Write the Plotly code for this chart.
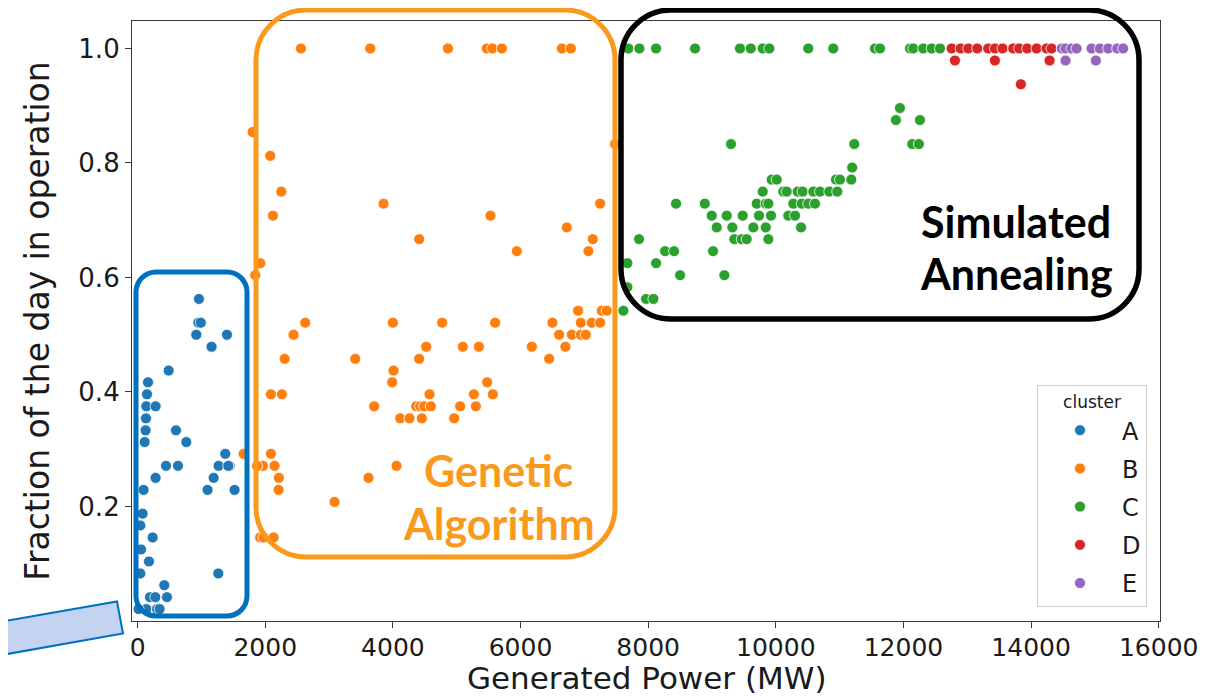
import plotly.graph_objects as go

# ---------------- data ----------------
a_x = [961, 951, 990, 919, 1400, 1159, 486, 163, 147, 136, 282, 131, 125, 601, 110, 763,
       445, 633, 1373, 1269, 1441, 1420, 282, 1191, 94, 1096, 1519, 78, 42, 235, 53, 178,
       42, 1264, 418, 194, 277, 460, 136, 304, 345, 15]
a_y = [0.5625, 0.521, 0.521, 0.5, 0.5, 0.479, 0.4375, 0.417, 0.396, 0.375, 0.375, 0.354, 0.333, 0.333, 0.3125, 0.3125,
       0.271, 0.271, 0.292, 0.271, 0.271, 0.271, 0.25, 0.25, 0.229, 0.229, 0.229, 0.1875, 0.167, 0.146, 0.125, 0.104,
       0.083, 0.083, 0.0625, 0.0417, 0.0417, 0.0417, 0.0208, 0.0208, 0.0208, 0.0208]

b_x = [2559, 3645, 4862, 5472, 5560, 5707, 6647, 6788,
       1801, 2078, 2251, 2120, 3853, 4412, 5529, 5942, 6725, 7247, 7132, 7064, 7482, 1922, 1843,
       6902, 7273, 7351,
       2627, 4000, 4772, 5602, 6500, 6944, 7116, 7247,
       2443, 6605, 6803, 6944, 7022,
       4522, 5096, 5347, 6177, 6703,
       2303, 3410, 4412, 6448,
       4010,
       3989, 5477,
       2089, 2261, 4574, 5269, 5566,
       3707, 4365, 4427, 4490, 4595, 5054, 5300,
       4114, 4260, 4454, 4960,
       2089, 1660,
       1964, 2146, 1870, 4057,
       2214, 3618,
       2209,
       3086,
       1920, 1974, 2130]
b_y = [1.0, 1.0, 1.0, 1.0, 1.0, 1.0, 1.0, 1.0,
       0.854, 0.8125, 0.75, 0.708, 0.729, 0.667, 0.708, 0.646, 0.6875, 0.729, 0.667, 0.646, 0.833, 0.625, 0.604,
       0.542, 0.542, 0.542,
       0.521, 0.521, 0.521, 0.521, 0.521, 0.521, 0.521, 0.521,
       0.5, 0.5, 0.5, 0.5, 0.5,
       0.479, 0.479, 0.479, 0.479, 0.479,
       0.458, 0.458, 0.458, 0.458,
       0.4375,
       0.417, 0.417,
       0.396, 0.396, 0.396, 0.396, 0.396,
       0.375, 0.375, 0.375, 0.375, 0.375, 0.375, 0.375,
       0.354, 0.354, 0.354, 0.354,
       0.292, 0.292,
       0.271, 0.271, 0.271, 0.271,
       0.25, 0.25,
       0.229,
       0.208,
       0.146, 0.146, 0.146]

c_x = [7690, 7862, 8124, 8734, 9439, 9607, 9795, 9898, 10509, 10900, 11554, 11632, 12102, 12154, 12310, 12442, 12572,
       11945,
       11882, 12258,
       12138, 12243, 9298, 11230,
       11197,
       10943, 11006, 11183, 9936, 10014,
       9795, 10118, 10171, 10343, 10421, 10588, 10692, 10838, 10963,
       8437, 8887, 9701, 9842, 9883, 10274, 10406, 10509, 10614,
       8996, 9231, 9481, 9737, 9925, 10196, 10301,
       9074, 9319, 9648, 9842, 10395,
       9350, 9466, 9544, 9883, 7857,
       8265, 8406, 9017,
       7675, 8124,
       8500, 9194,
       7675,
       7967, 8082,
       7612]
c_y = [1.0] * 17 + [
       0.896,
       0.875, 0.875,
       0.833, 0.833, 0.833, 0.833,
       0.792,
       0.771, 0.771, 0.771, 0.771, 0.771,
       0.75, 0.75, 0.75, 0.75, 0.75, 0.75, 0.75, 0.75, 0.75,
       0.729, 0.729, 0.729, 0.729, 0.729, 0.729, 0.729, 0.729, 0.729,
       0.708, 0.708, 0.708, 0.708, 0.708, 0.708, 0.708,
       0.6875, 0.6875, 0.6875, 0.6875, 0.6875,
       0.667, 0.667, 0.667, 0.667, 0.667,
       0.646, 0.646, 0.646,
       0.625, 0.625,
       0.604, 0.604,
       0.583,
       0.5625, 0.5625,
       0.542]

d_x = [12755, 12896, 13015, 13156, 13328, 13433, 13553, 13720, 13814, 13939, 14086, 14243, 14321,
       12807, 13433, 14290,
       13840]
d_y = [1.0, 1.0, 1.0, 1.0, 1.0, 1.0, 1.0, 1.0, 1.0, 1.0, 1.0, 1.0, 1.0,
       0.979, 0.979, 0.979,
       0.9375]

e_x = [14480, 14540, 14634, 14713, 14948, 15078, 15208, 15349, 15443,
       14540, 15015]
e_y = [1.0, 1.0, 1.0, 1.0, 1.0, 1.0, 1.0, 1.0, 1.0,
       0.979, 0.979]

clusters = ["A", "B", "C", "D", "E"]
series_x = [a_x, b_x, c_x, d_x, e_x]
series_y = [a_y, b_y, c_y, d_y, e_y]
colors = ["#1f77b4", "#ff7f0e", "#2ca02c", "#d62728", "#9467bd"]

x_ticks = [0, 2000, 4000, 6000, 8000, 10000, 12000, 14000, 16000]
y_ticks = [0.2, 0.4, 0.6, 0.8, 1.0]
x_title = "Generated Power (MW)"
y_title = "Fraction of the day in operation"

# ---------------- layout geometry ----------------
# the page body has an 8px margin, so the figure sits at (8, 8) in the window
OFF = 8
W, H = 1203, 688
PL, PR, PT, PB = 132, 1160, 21, 621          # plot-area box in window pixels
ML, MT = PL - OFF, PT - OFF
MR, MB = W - (PR - OFF), H - (PB - OFF)
PW, PH = PR - PL, PB - PT


def px(x):
    return (x - PL) / PW


def py(y):
    return (PB - y) / PH


def rrect(x0, y0, x1, y1, r):
    """rounded rectangle path in paper coords from a window-pixel box"""
    k = 0.5523
    X0, X1 = px(x0), px(x1)
    YT, YB = py(y0), py(y1)
    rx, ry = r / PW, r / PH
    p = [f"M {X0 + rx},{YT}",
         f"L {X1 - rx},{YT}",
         f"C {X1 - rx + k * rx},{YT} {X1},{YT - ry + k * ry} {X1},{YT - ry}",
         f"L {X1},{YB + ry}",
         f"C {X1},{YB + ry - k * ry} {X1 - rx + k * rx},{YB} {X1 - rx},{YB}",
         f"L {X0 + rx},{YB}",
         f"C {X0 + rx - k * rx},{YB} {X0},{YB + ry - k * ry} {X0},{YB + ry}",
         f"L {X0},{YT - ry}",
         f"C {X0},{YT - ry + k * ry} {X0 + rx - k * rx},{YT} {X0 + rx},{YT}",
         "Z"]
    return " ".join(p)


def poly(points):
    return "M " + " L ".join(f"{px(a)},{py(b)}" for a, b in points) + " Z"


fig = go.Figure()
for name, xs, ys, col in zip(clusters, series_x, series_y, colors):
    fig.add_trace(go.Scatter(
        x=xs, y=ys, mode="markers", name=name, legendgroup=name,
        marker=dict(color=col, size=11, line=dict(color="white", width=0.8)),
    ))

ORANGE = "#F99A1C"
shapes = [
    dict(type="path", xref="paper", yref="paper", path=rrect(136, 272, 247, 616, 20),
         line=dict(color="#0070C0", width=5), layer="above"),
    dict(type="path", xref="paper", yref="paper", path=rrect(256, 10, 615, 557, 50),
         line=dict(color=ORANGE, width=5), layer="above"),
    dict(type="path", xref="paper", yref="paper", path=rrect(621, 10, 1139, 319, 50),
         line=dict(color="#000000", width=5.5), layer="above"),
    dict(type="path", xref="paper", yref="paper",
         path=poly([(-4, 622.5), (117, 601.5), (123, 633.5), (-4, 656)]),
         fillcolor="#c3d3f0", line=dict(color="#0070C0", width=2), layer="above"),
]

ann_font = dict(family="Lato", size=43)
annotations = [
    dict(text="<b>Genetic</b>", x=px(499), y=py(470)),
    dict(text="<b>Algorithm</b>", x=px(499), y=py(523)),
    dict(text="<b>Simulated</b>", x=px(1016), y=py(222)),
    dict(text="<b>Annealing</b>", x=px(1016), y=py(273)),
]
for i, a in enumerate(annotations):
    a.update(xref="paper", yref="paper", showarrow=False, xanchor="center", yanchor="middle",
             font=dict(ann_font, color=ORANGE if i < 2 else "#000000"))

# x-axis title placed as a text at the bottom edge (as in the reference)
annotations.append(dict(text=x_title, x=px(646), y=py(678), xref="paper", yref="paper",
                        showarrow=False, xanchor="center", yanchor="middle",
                        font=dict(family="DejaVu Sans", size=31, color="#1a1a1a")))

axis_common = dict(
    showline=True, linecolor="#3a3a3a", linewidth=1.2, mirror=True,
    ticks="outside", ticklen=6, tickwidth=1.2, tickcolor="#3a3a3a",
    showgrid=False, zeroline=False, automargin=False,
)

fig.update_layout(
    width=W, height=H,
    margin=dict(l=ML, r=MR, t=MT, b=MB, pad=0, autoexpand=False),
    paper_bgcolor="white", plot_bgcolor="white",
    font=dict(family="DejaVu Sans", color="#1a1a1a"),
    xaxis=dict(range=[-88, 16020], tickvals=x_ticks, ticktext=[str(v) for v in x_ticks],
               tickfont=dict(family="DejaVu Sans", size=25, color="#1a1a1a"),
               ticklabelstandoff=-2,
               **axis_common),
    yaxis=dict(range=[0.0, 1.048], tickvals=y_ticks, ticktext=[f"{v:.1f}" for v in y_ticks],
               tickfont=dict(family="DejaVu Sans", size=26, color="#1a1a1a"),
               title=dict(text=y_title, font=dict(size=33), standoff=18),
               **axis_common),
    legend=dict(
        title=dict(text="cluster", side="top center", font=dict(size=17)),
        x=px(1147), xanchor="right", y=py(607), yanchor="bottom",
        bgcolor="white", bordercolor="#d0d0d0", borderwidth=1,
        font=dict(size=24, family="DejaVu Sans"),
        itemwidth=74, tracegroupgap=4,
    ),
    shapes=shapes,
    annotations=annotations,
)

fig.write_html("out.html")
